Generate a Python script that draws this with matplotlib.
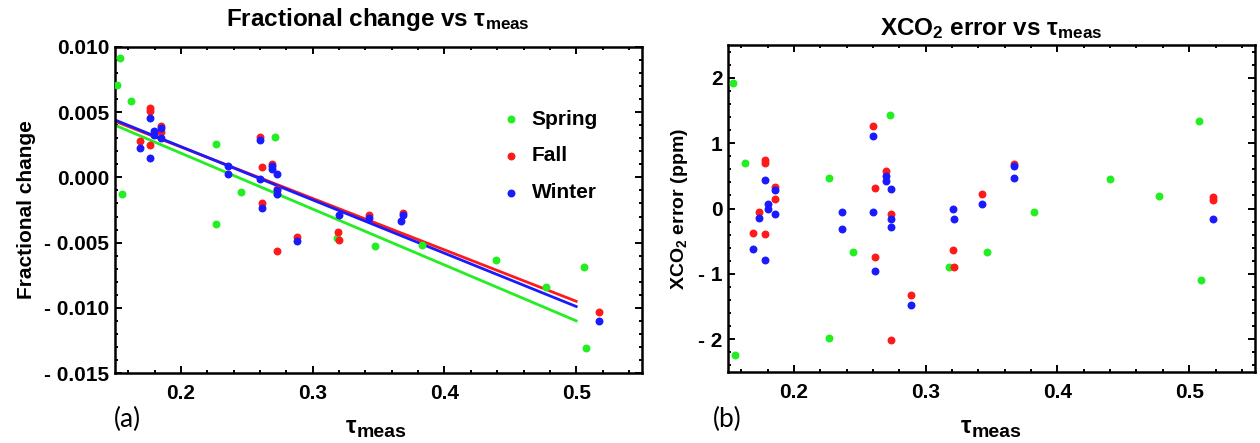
import numpy as np
import matplotlib
matplotlib.use("Agg")
import matplotlib.pyplot as plt
from matplotlib.ticker import MultipleLocator, FuncFormatter

plt.rcParams['font.family'] = ['Liberation Sans', 'DejaVu Sans']
plt.rcParams['font.weight'] = 'bold'
plt.rcParams['axes.labelweight'] = 'bold'
plt.rcParams['mathtext.fontset'] = 'custom'
plt.rcParams['mathtext.rm'] = 'Liberation Sans'
plt.rcParams['mathtext.bf'] = 'Liberation Sans:bold'
plt.rcParams['mathtext.it'] = 'Liberation Sans:italic'

# panel (a): fractional change vs tau_meas
spring_tau_a = [0.1515, 0.154, 0.1556, 0.162, 0.2268, 0.2268, 0.2455, 0.2717, 0.2732,
                0.3182, 0.347, 0.383, 0.4394, 0.4768, 0.506, 0.5078]
spring_frac = [0.00708, 0.00913, -0.00128, 0.00585, 0.00256, -0.00359, -0.00113, 0.0031, -0.0013,
               -0.00467, -0.00523, -0.0052, -0.0063, -0.00844, -0.00687, -0.01305]
fall_tau_a = [0.1687, 0.1768, 0.1768, 0.1768, 0.1848, 0.1848, 0.2601, 0.2614, 0.2614, 0.2694,
              0.2732, 0.2732, 0.2884, 0.3192, 0.3202, 0.3424, 0.3684, 0.5174]
fall_frac = [0.00282, 0.0053, 0.0051, 0.00246, 0.00395, 0.00349, 0.0031, 0.00077, -0.00195, 0.00105,
             -0.00092, -0.00564, -0.00454, -0.00415, -0.00482, -0.00292, -0.00272, -0.01036]
winter_tau_a = [0.1687, 0.1768, 0.1768, 0.1793, 0.1793, 0.1848, 0.1848, 0.2359, 0.2359, 0.2598,
                0.2598, 0.2614, 0.2694, 0.2694, 0.2732, 0.2732, 0.2732, 0.2884, 0.3202, 0.3424,
                0.3667, 0.3684, 0.5174]
winter_frac = [0.00228, 0.00456, 0.00149, 0.00354, 0.00328, 0.0038, 0.003, 0.00087, 0.00023, 0.00285,
               -0.00015, -0.00236, 0.00087, 0.00067, 0.00023, -0.001, -0.00126, -0.00485, -0.00287, -0.00313,
               -0.00336, -0.00292, -0.0110]

# linear fits, read at the ends
fit_tau = [0.15, 0.50]
fit_spring = [0.0040, -0.0110]
fit_fall = [0.0043, -0.0095]
fit_winter = [0.0044, -0.0099]

# panel (b): XCO2 error vs tau_meas
spring_tau_b = [0.154, 0.1556, 0.163, 0.2268, 0.2268, 0.2452, 0.2727, 0.3177, 0.3467, 0.382,
                0.440, 0.477, 0.5076, 0.5088]
spring_err = [1.92, -2.24, 0.70, 0.47, -1.98, -0.67, 1.43, -0.90, -0.67, -0.06,
              0.45, 0.19, 1.34, -1.10]
fall_tau_b = [0.1692, 0.1737, 0.1778, 0.1778, 0.1778, 0.1854, 0.1854, 0.2604, 0.2616, 0.2616,
              0.2702, 0.274, 0.274, 0.2891, 0.3207, 0.3217, 0.3429, 0.3674, 0.5177, 0.5177]
fall_err = [-0.37, -0.06, 0.745, 0.70, -0.39, 0.33, 0.14, 1.26, 0.32, -0.745,
            0.58, -0.09, -2.01, -1.33, -0.64, -0.90, 0.22, 0.68, 0.17, 0.13]
winter_tau_b = [0.1692, 0.1737, 0.1778, 0.1778, 0.1803, 0.1803, 0.1854, 0.1854, 0.2366, 0.2366,
                0.2604, 0.2604, 0.2616, 0.2702, 0.2702, 0.274, 0.274, 0.274, 0.2891, 0.3207,
                0.3217, 0.3429, 0.3674, 0.3674, 0.5177]
winter_err = [-0.62, -0.14, 0.44, -0.78, 0.07, 0.0, 0.28, -0.09, -0.06, -0.32,
              1.11, -0.06, -0.95, 0.5, 0.42, 0.30, -0.16, -0.29, -1.48, -0.01,
              -0.16, 0.07, 0.65, 0.47, -0.16]

GREEN, RED, BLUE = '#22ee22', '#ff1a1a', '#1a1aff'
FS = 15


def dash_fmt(ndig):
    def f(v, pos):
        if abs(v) < 1e-12:
            return f'{0:.{ndig}f}'
        s = f'{abs(v):.{ndig}f}'
        return '- ' + s if v < 0 else s
    return FuncFormatter(f)


def frame(ax):
    for sp in ax.spines.values():
        sp.set_linewidth(1.8)
    ax.tick_params(which='both', direction='in', top=True, right=True,
                   labelsize=FS, width=1.4)
    ax.tick_params(which='major', length=5)
    ax.tick_params(which='minor', length=2.5)
    ax.tick_params(axis='x', pad=8)
    ax.tick_params(axis='y', pad=4)
    ax.xaxis.set_major_locator(MultipleLocator(0.1))
    ax.xaxis.set_minor_locator(MultipleLocator(0.02))
    ax.set_xlim(0.15, 0.55)


def tau_label(fig, x, y):
    fig.text(x, y, r'$\mathrm{\tau}$', fontsize=FS + 2, ha='right', va='baseline')
    fig.text(x, y - 0.008, 'meas', fontsize=FS - 1, ha='left', va='baseline')


fig = plt.figure(figsize=(12.6, 4.43), dpi=100)
ax1 = fig.add_axes([0.0913, 0.158, 0.4183, 0.736])
ax2 = fig.add_axes([0.5778, 0.1603, 0.4183, 0.738])

# (a)
ax1.plot(fit_tau, fit_spring, color=GREEN, lw=2)
ax1.plot(fit_tau, fit_fall, color=RED, lw=2)
ax1.plot(fit_tau, fit_winter, color=BLUE, lw=2)
ax1.scatter(spring_tau_a, spring_frac, s=22, color=GREEN, label='Spring', zorder=3)
ax1.scatter(fall_tau_a, fall_frac, s=22, color=RED, label='Fall', zorder=3)
ax1.scatter(winter_tau_a, winter_frac, s=22, color=BLUE, label='Winter', zorder=3)
frame(ax1)
ax1.set_ylim(-0.015, 0.010)
ax1.yaxis.set_major_locator(MultipleLocator(0.005))
ax1.yaxis.set_minor_locator(MultipleLocator(0.001))
ax1.yaxis.set_major_formatter(dash_fmt(3))
ax1.set_ylabel('Fractional change', fontsize=FS, labelpad=6)
ax1.legend(loc='upper left', bbox_to_anchor=(0.70, 0.865), frameon=False, fontsize=FS,
           handlelength=0.8, handletextpad=0.6, labelspacing=0.85, scatterpoints=1)

# (b)
ax2.scatter(spring_tau_b, spring_err, s=22, color=GREEN, zorder=3)
ax2.scatter(fall_tau_b, fall_err, s=22, color=RED, zorder=3)
ax2.scatter(winter_tau_b, winter_err, s=22, color=BLUE, zorder=3)
frame(ax2)
ax2.set_ylim(-2.5, 2.5)
ax2.yaxis.set_major_locator(MultipleLocator(1))
ax2.yaxis.set_minor_locator(MultipleLocator(0.2))
ax2.yaxis.set_major_formatter(dash_fmt(0))
ax2.set_ylabel(r'XCO$_\mathbf{2}$ error (ppm)', fontsize=FS - 1, labelpad=6)

# titles
fig.text(378 / 1260, 1 - 26 / 443, r'Fractional change vs $\mathrm{\tau}_\mathbf{meas}$',
         fontsize=17.5, ha='center', va='baseline')
fig.text(991 / 1260, 1 - 35 / 443, r'XCO$_\mathbf{2}$ error vs $\mathrm{\tau}_\mathbf{meas}$',
         fontsize=17.5, ha='center', va='baseline')

# x labels
tau_label(fig, 357 / 1260, 1 - 433 / 443)
tau_label(fig, 972 / 1260, 1 - 433 / 443)

# panel letters
fig.text(127 / 1260, 1 - 419 / 443, '(a)', fontsize=19, family='Lato', weight='normal',
         ha='center', va='center')
fig.text(727 / 1260, 1 - 419 / 443, '(b)', fontsize=19, family='Lato', weight='normal',
         ha='center', va='center')

fig.savefig('out.png', dpi=100)
